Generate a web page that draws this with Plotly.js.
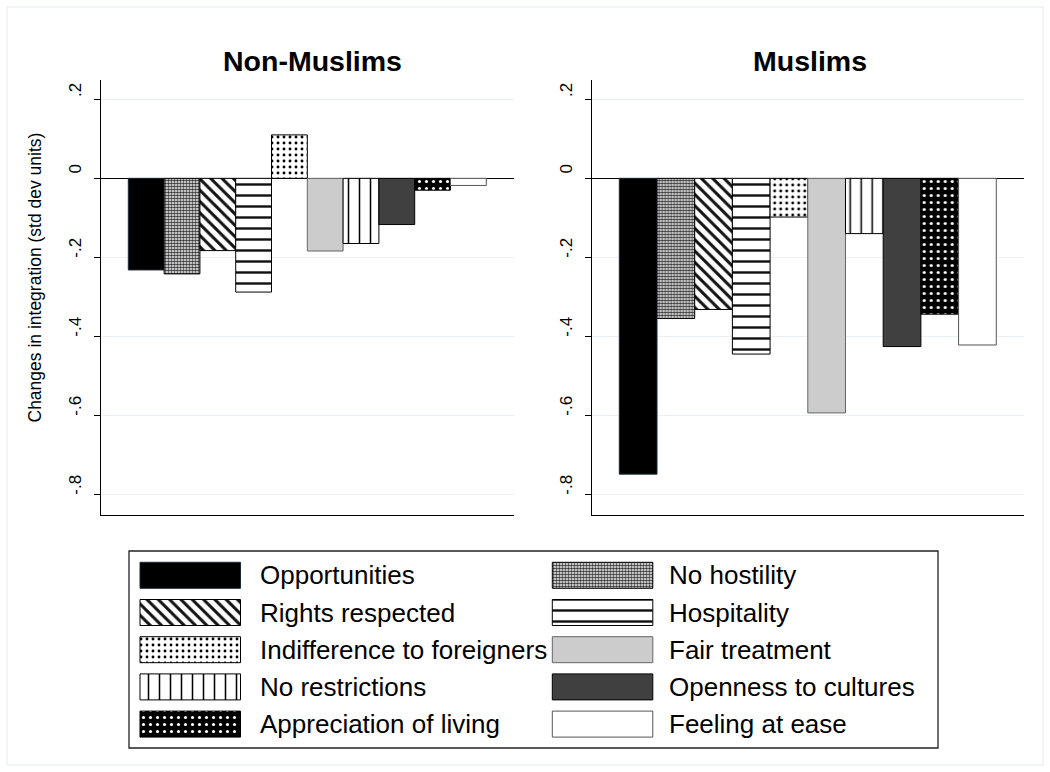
<!DOCTYPE html>
<html><head><meta charset="utf-8">
<script src="https://cdn.plot.ly/plotly-3.0.1.min.js"></script>
<style>html,body{margin:0;padding:0;background:#fff}#chart{width:1050px;height:772px}</style>
</head><body><div id="chart"></div>
<script>
// ---- data ----
const categories = ["Opportunities","No hostility","Rights respected","Hospitality","Indifference to foreigners","Fair treatment","No restrictions","Openness to cultures","Appreciation of living","Feeling at ease"];
const nonMuslims = [-0.232,-0.242,-0.183,-0.288,0.110,-0.184,-0.165,-0.117,-0.030,-0.018];
const muslims    = [-0.749,-0.355,-0.332,-0.445,-0.098,-0.594,-0.140,-0.426,-0.344,-0.422];
const panelTitles = ["Non-Muslims","Muslims"];
const yTickVals = [0.2,0,-0.2,-0.4,-0.6,-0.8];
const yTickText = [".2","0","-.2","-.4","-.6","-.8"];
const yTitle = "Changes in integration (std dev units)";

// ---- styles ----
const FONT = "Liberation Sans, Arial, Helvetica, sans-serif";
const W = 1050, H = 772;
const styles = [
  {color:'#000000', line:'#1c2838', pattern:{shape:''}},
  {color:'#ffffff', line:'#000000', pattern:{shape:'.', size:3, solidity:0.6, fgcolor:'#333', bgcolor:'#ffffff', fillmode:'replace'}},
  {color:'#ffffff', line:'#000000', pattern:{shape:'\\', size:8, solidity:0.38, fgcolor:'#111', bgcolor:'#ffffff', fillmode:'replace'}},
  {color:'#ffffff', line:'#000000', pattern:{shape:'-', size:11, solidity:0.22, fgcolor:'#111', bgcolor:'#ffffff', fillmode:'replace'}},
  {color:'#ffffff', line:'#000000', pattern:{shape:'.', size:6, solidity:0.18, fgcolor:'#000', bgcolor:'#ffffff', fillmode:'replace'}},
  {color:'#cccccc', line:'#666666', pattern:{shape:''}},
  {color:'#ffffff', line:'#000000', pattern:{shape:'|', size:11, solidity:0.14, fgcolor:'#000', bgcolor:'#ffffff', fillmode:'replace'}},
  {color:'#404040', line:'#000000', pattern:{shape:''}},
  {color:'#000000', line:'#000000', pattern:{shape:'.', size:7, solidity:0.16, fgcolor:'#ffffff', bgcolor:'#000000', fillmode:'replace'}},
  {color:'#ffffff', line:'#555555', pattern:{shape:''}}
];

// pixel geometry helpers
const px = v => v / W;
const py = v => 1 - v / H;

const traces = [];
const panels = [nonMuslims, muslims];
panels.forEach((vals, p) => {
  const xa = p === 0 ? 'x' : 'x2', ya = p === 0 ? 'y' : 'y2';
  categories.forEach((c, i) => {
    const s = styles[i];
    traces.push({
      type:'bar', x:[c], y:[vals[i]], xaxis:xa, yaxis:ya, width:1,
      marker:{color:s.color, line:{color:s.line, width:1}, pattern:s.pattern},
      showlegend:false, hoverinfo:'skip'
    });
  });
});

// custom legend drawn on pixel-space overlay axes
const legCols = [{sw:140, tx:257.7},{sw:552.3, tx:666.7}];
const legRow0 = 575.3, legStep = 37.2, swW = 100.5, swH = 26;
const annotations = [];
categories.forEach((c, i) => {
  const s = styles[i];
  const col = legCols[i % 2], row = Math.floor(i / 2);
  const yc = legRow0 + row * legStep;
  traces.push({
    type:'bar', orientation:'h', x:[swW], base:[col.sw], y:[yc], offset:-swH/2, width:swH,
    xaxis:'x3', yaxis:'y3',
    marker:{color:s.color, line:{color:s.line, width:1}, pattern:s.pattern},
    showlegend:false, hoverinfo:'skip'
  });
  annotations.push({xref:'x3', yref:'y3', x:col.tx, y:yc, text:c, showarrow:false,
    xanchor:'left', yanchor:'middle', font:{family:FONT, size:26, color:'#000'}});
});

// panel titles
const titleX = [312, 809.7];
panelTitles.forEach((t, p) => {
  annotations.push({xref:'paper', yref:'paper', x:px(titleX[p]), y:py(61), text:'<b>'+t+'</b>',
    showarrow:false, xanchor:'center', yanchor:'middle', font:{family:FONT, size:28.5, color:'#000'}});
});
// y axis title
annotations.push({xref:'paper', yref:'paper', x:px(35), y:py(277.5), text:yTitle, textangle:-90,
  showarrow:false, xanchor:'center', yanchor:'middle', font:{family:FONT, size:17.5, color:'#000'}});

const yDom = [py(515), py(80)];
function yAxis(anchor){
  return {domain:yDom, anchor:anchor, range:[-0.8525, 0.249], tickvals:yTickVals, ticktext:yTickText,
    tickangle:-90, ticks:'outside', ticklen:6, tickwidth:1, tickcolor:'#000', ticklabelshift:-7,
    ticklabelstandoff:6,
    showline:true, linecolor:'#000', linewidth:1, showgrid:true, gridcolor:'#eaf0f4', gridwidth:1,
    zeroline:true, zerolinecolor:'#000', zerolinewidth:1, tickfont:{family:FONT, size:17, color:'#000'},
    fixedrange:true};
}
function xAxis(anchor, d0, d1, r){
  return {domain:[px(d0), px(d1)], anchor:anchor, type:'category', categoryorder:'array', categoryarray:categories,
    range:r, showticklabels:false, ticks:'', showline:true, linecolor:'#000', linewidth:1,
    showgrid:false, zeroline:false, fixedrange:true};
}

const layout = {
  width:W, height:H, margin:{l:0, r:0, t:0, b:0}, paper_bgcolor:'#fff', plot_bgcolor:'rgba(0,0,0,0)',
  barmode:'overlay', showlegend:false, font:{family:FONT, color:'#000'},
  xaxis: xAxis('y', 101, 514, [-1.263, 10.274]),
  yaxis: yAxis('x'),
  xaxis2: xAxis('y2', 591.7, 1024, [-1.232, 10.235]),
  yaxis2: yAxis('x2'),
  xaxis3: {domain:[0,1], anchor:'y3', range:[0, W], visible:false, fixedrange:true},
  yaxis3: {domain:[0,1], anchor:'x3', range:[H, 0], visible:false, fixedrange:true},
  annotations: annotations,
  shapes: [
    {type:'rect', xref:'x3', yref:'y3', x0:7, x1:1043, y0:7, y1:765, line:{color:'#e3ebef', width:1}, fillcolor:'rgba(0,0,0,0)', layer:'below'},
    {type:'rect', xref:'x3', yref:'y3', x0:129, x1:938, y0:551, y1:748, line:{color:'#222', width:1.3}, fillcolor:'rgba(0,0,0,0)'}
  ]
};

Plotly.newPlot('chart', traces, layout, {staticPlot:true, displayModeBar:false});
</script></body></html>
